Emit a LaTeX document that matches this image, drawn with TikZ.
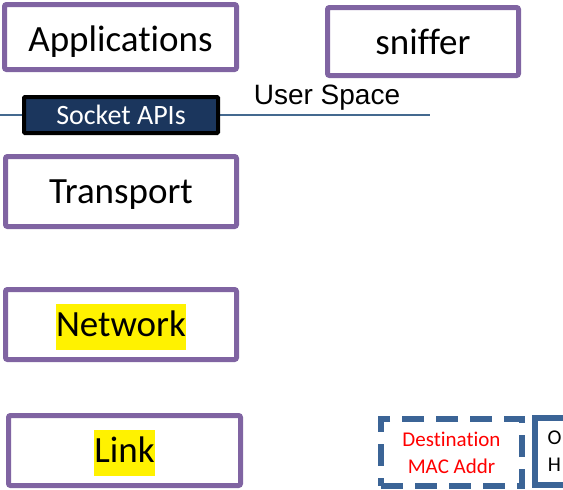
\documentclass[tikz,border=0pt]{standalone}
\usepackage{fontspec}
\setmainfont{Carlito}[Ligatures=NoCommon]
\newfontfamily\arialfont{Liberation Sans}
\usepackage{xcolor}
\definecolor{laypurple}{HTML}{8064A2}
\definecolor{socknavy}{HTML}{1B365D}
\definecolor{spaceline}{HTML}{44698F}
\definecolor{frameblue}{HTML}{3B6496}
\newcommand{\hlword}[1]{{\setlength{\fboxsep}{0pt}\colorbox{yellow}{\rule[-13pt]{0pt}{46pt}#1}}}
\tikzset{
  layer/.style={draw=laypurple, line width=5pt, rounded corners=2pt, fill=white,
    minimum width=231pt, minimum height=70pt, text height=31pt, text depth=7pt,
    font=\fontsize{37}{40}\selectfont},
  field/.style={draw=frameblue, line width=6pt, minimum height=67pt}
}
\begin{document}
\begin{tikzpicture}[x=1pt,y=-1pt]
      \useasboundingbox (0,0) rectangle (563,490);
      % user space boundary
      \coordinate (lineL) at (0,115);
      \coordinate (lineR) at (430,115);
      \draw [spaceline, line width=1.3pt] (lineL) -- (lineR);
      \node[layer, minimum width=232pt, minimum height=65pt, text height=36pt, text depth=7pt] (app) at (120.5,37) {Applications};
      \node[layer, minimum width=191pt, minimum height=68pt, text height=30pt, text depth=5pt] (sniff) at (423,41.5) {sniffer};
      \node[draw=black, fill=socknavy, line width=4pt, rounded corners=1pt, text=white,
        minimum width=194pt, minimum height=36pt, font=\fontsize{28}{30}\selectfont] (sock) at (121,115) {Socket APIs};
      \node[font=\arialfont\fontsize{28}{30}\selectfont] (user) at (327,98) {User Space};
      % layers
      \node[layer] (trans) at (121,191.5) {Transport};
      \node[layer] (net) at (121,324.5) {\hlword{Network}};
      \node[layer, minimum width=232pt] (link) at (124.5,450.5) {\hlword{Link}};
      % frame fields
      \node[field, dash pattern=on 22pt off 12pt, minimum width=141pt, text=red, align=center,
        font=\fontsize{21}{27}\selectfont] (dst) at (451.5,452.5) {Destination\\MAC Addr};
      \node[field, minimum width=100pt, anchor=west, align=center,
        font=\fontsize{21}{27}\selectfont] (other) at (532,451) {};
      \node[anchor=west, align=center, font=\fontsize{21}{27}\selectfont] (othertxt) at (544,451) {O\\H};
    \end{tikzpicture}
\end{document}
